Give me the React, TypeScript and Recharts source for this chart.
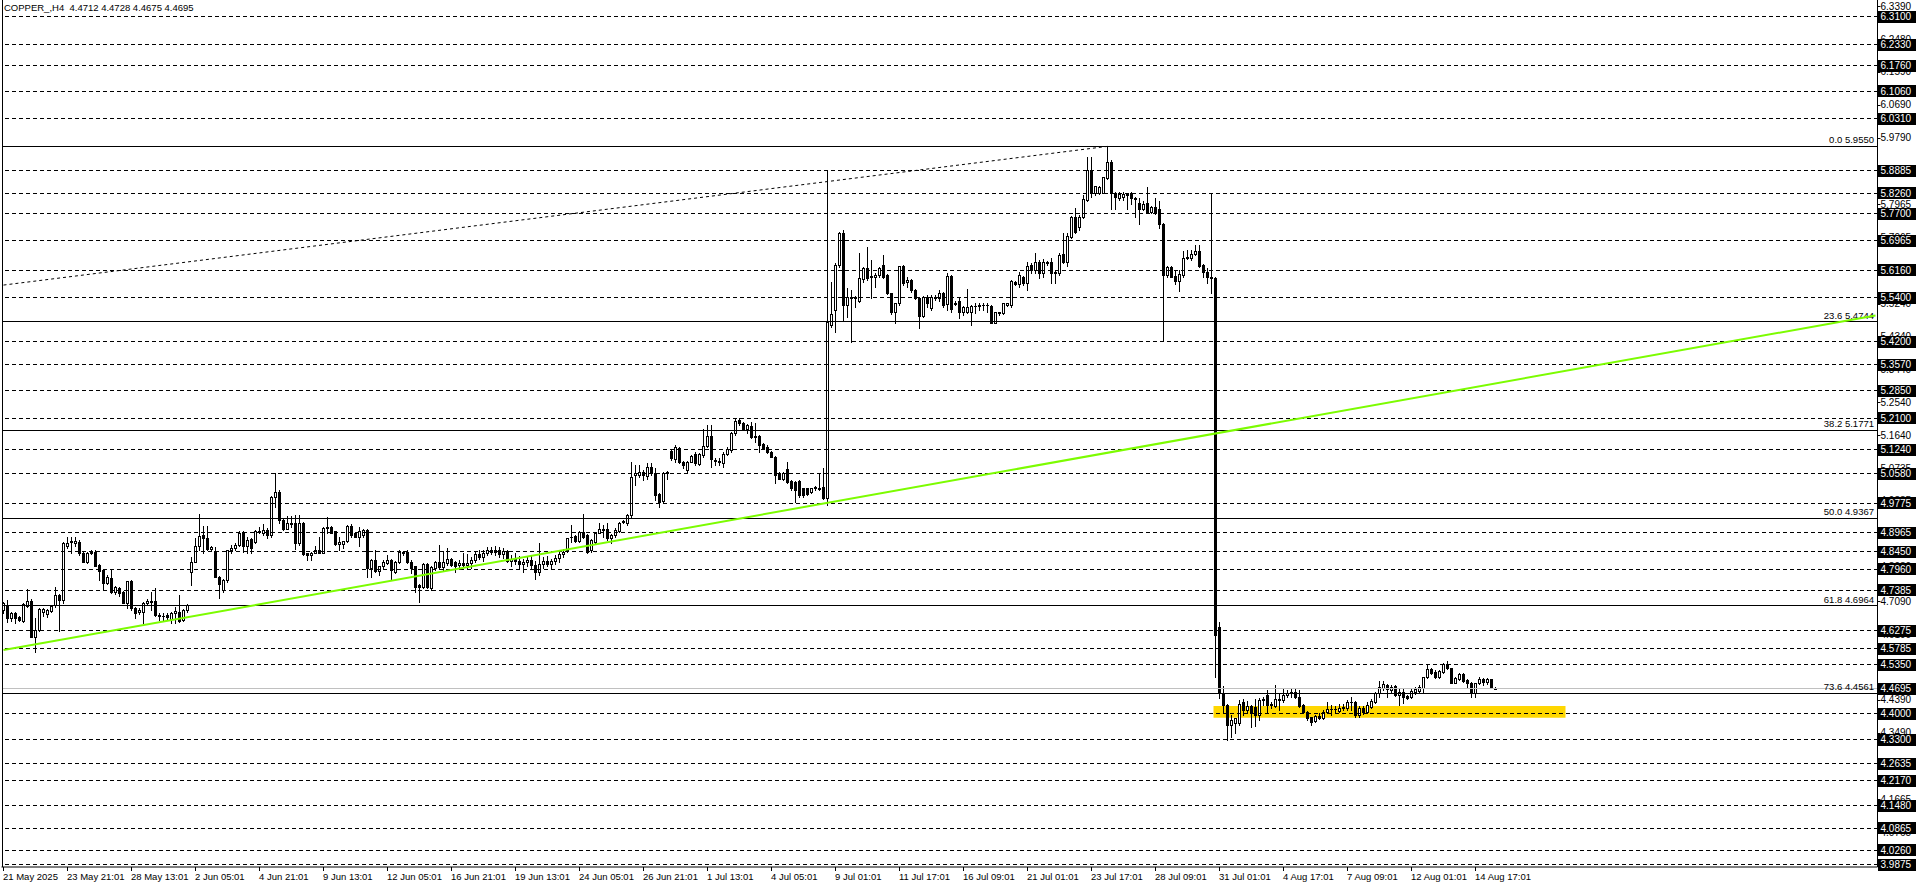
import { ComposedChart, Bar, XAxis, YAxis, ReferenceLine, ReferenceArea } from "recharts";

// COPPER_, H4 candles from 21 May 2025 to 15 Aug 2025
const opens = [
  4.685, 4.699, 4.662, 4.676, 4.665, 4.656, 4.696, 4.71, 4.612, 4.63,
  4.68, 4.673, 4.683, 4.699, 4.726, 4.711, 4.86, 4.874, 4.868, 4.87,
  4.842, 4.817, 4.84, 4.845, 4.808, 4.795, 4.76, 4.772, 4.735, 4.744,
  4.733, 4.705, 4.763, 4.69, 4.678, 4.68, 4.705, 4.71, 4.71, 4.671,
  4.669, 4.671, 4.66, 4.676, 4.679, 4.658, 4.685, 4.79, 4.817, 4.861,
  4.89, 4.881, 4.852, 4.847, 4.776, 4.74, 4.767, 4.848, 4.856, 4.863,
  4.899, 4.859, 4.879, 4.872, 4.9, 4.897, 4.904, 4.89, 4.994, 5.007,
  4.932, 4.908, 4.92, 4.922, 4.868, 4.922, 4.84, 4.836, 4.842, 4.848,
  4.842, 4.913, 4.913, 4.9, 4.866, 4.866, 4.874, 4.916, 4.895, 4.886,
  4.89, 4.904, 4.799, 4.822, 4.793, 4.804, 4.813, 4.822, 4.79, 4.815,
  4.845, 4.845, 4.817, 4.804, 4.753, 4.749, 4.811, 4.744, 4.799, 4.815,
  4.802, 4.813, 4.824, 4.817, 4.807, 4.813, 4.808, 4.813, 4.822, 4.838,
  4.83, 4.842, 4.848, 4.845, 4.85, 4.838, 4.846, 4.82, 4.825, 4.818,
  4.81, 4.815, 4.822, 4.808, 4.79, 4.812, 4.82, 4.812, 4.818, 4.828,
  4.838, 4.849, 4.884, 4.887, 4.875, 4.899, 4.89, 4.849, 4.872, 4.897,
  4.908, 4.908, 4.881, 4.89, 4.902, 4.927, 4.922, 4.945, 5.055, 5.055,
  5.064, 5.052, 5.077, 5.059, 5.002, 4.984, 5.061, 5.121, 5.098, 5.128,
  5.091, 5.068, 5.091, 5.112, 5.085, 5.109, 5.134, 5.161, 5.096, 5.094,
  5.087, 5.112, 5.123, 5.169, 5.205, 5.196, 5.182, 5.189, 5.158, 5.161,
  5.139, 5.132, 5.119, 5.105, 5.061, 5.045, 5.07, 5.039, 5.036, 5.039,
  5.018, 5.018, 5.009, 5.018, 5.015, 5.021, 4.993, 5.466, 5.507, 5.63,
  5.717, 5.52, 5.543, 5.539, 5.532, 5.591, 5.621, 5.6, 5.598, 5.603,
  5.63, 5.603, 5.552, 5.502, 5.525, 5.626, 5.584, 5.589, 5.562, 5.539,
  5.49, 5.542, 5.511, 5.539, 5.539, 5.553, 5.523, 5.6, 5.522, 5.53,
  5.5, 5.5, 5.5, 5.518, 5.519, 5.521, 5.52, 5.518, 5.472, 5.498,
  5.498, 5.521, 5.521, 5.584, 5.578, 5.598, 5.58, 5.63, 5.616, 5.637,
  5.607, 5.637, 5.637, 5.607, 5.607, 5.66, 5.639, 5.708, 5.761, 5.733,
  5.761, 5.808, 5.889, 5.826, 5.826, 5.828, 5.868, 5.911, 5.828, 5.813,
  5.816, 5.826, 5.826, 5.813, 5.799, 5.784, 5.801, 5.776, 5.788, 5.783,
  5.742, 5.603, 5.624, 5.6, 5.587, 5.603, 5.648, 5.648, 5.66, 5.667,
  5.63, 5.612, 5.596, 5.594, 4.637, 4.457, 4.425, 4.37, 4.374, 4.374,
  4.434, 4.411, 4.422, 4.418, 4.397, 4.438, 4.452, 4.425, 4.422, 4.441,
  4.438, 4.452, 4.457, 4.461, 4.447, 4.425, 4.406, 4.391, 4.382, 4.394,
  4.388, 4.404, 4.414, 4.413, 4.409, 4.417, 4.415, 4.434, 4.434, 4.397,
  4.415, 4.404, 4.42, 4.434, 4.457, 4.47, 4.479, 4.466, 4.477, 4.452,
  4.461, 4.45, 4.446, 4.461, 4.464, 4.47, 4.5, 4.523, 4.516, 4.502,
  4.516, 4.536, 4.525, 4.486, 4.495, 4.509, 4.493, 4.486, 4.457, 4.484,
  4.495, 4.488, 4.495, 4.4712,
];

const highs = [
  4.708, 4.712, 4.68, 4.68, 4.668, 4.704, 4.742, 4.716, 4.662, 4.69,
  4.69, 4.688, 4.697, 4.747, 4.73, 4.87, 4.886, 4.886, 4.884, 4.876,
  4.845, 4.845, 4.848, 4.848, 4.81, 4.797, 4.78, 4.796, 4.75, 4.748,
  4.736, 4.765, 4.767, 4.693, 4.69, 4.708, 4.714, 4.735, 4.744, 4.676,
  4.676, 4.676, 4.678, 4.694, 4.726, 4.687, 4.7, 4.831, 4.881, 4.948,
  4.915, 4.915, 4.86, 4.857, 4.778, 4.77, 4.85, 4.863, 4.868, 4.9,
  4.902, 4.886, 4.883, 4.903, 4.913, 4.921, 4.909, 4.996, 5.059, 5.014,
  4.935, 4.941, 4.941, 4.945, 4.945, 4.925, 4.842, 4.845, 4.859, 4.886,
  4.913, 4.939, 4.915, 4.902, 4.886, 4.874, 4.917, 4.921, 4.898, 4.913,
  4.906, 4.906, 4.825, 4.848, 4.806, 4.822, 4.836, 4.825, 4.82, 4.849,
  4.847, 4.849, 4.822, 4.806, 4.755, 4.813, 4.813, 4.804, 4.82, 4.863,
  4.847, 4.854, 4.827, 4.82, 4.822, 4.84, 4.838, 4.83, 4.845, 4.85,
  4.848, 4.858, 4.858, 4.86, 4.858, 4.856, 4.85, 4.835, 4.84, 4.832,
  4.825, 4.83, 4.835, 4.82, 4.867, 4.83, 4.832, 4.825, 4.835, 4.845,
  4.852, 4.881, 4.918, 4.89, 4.902, 4.948, 4.893, 4.88, 4.899, 4.922,
  4.918, 4.922, 4.892, 4.91, 4.925, 4.931, 4.948, 5.091, 5.082, 5.082,
  5.068, 5.087, 5.087, 5.073, 5.004, 5.064, 5.066, 5.123, 5.137, 5.13,
  5.093, 5.093, 5.109, 5.119, 5.114, 5.182, 5.192, 5.192, 5.1, 5.1,
  5.119, 5.132, 5.173, 5.21, 5.21, 5.199, 5.194, 5.201, 5.196, 5.164,
  5.141, 5.137, 5.121, 5.107, 5.063, 5.064, 5.091, 5.041, 5.038, 5.041,
  5.02, 5.02, 5.02, 5.024, 5.061, 5.073, 5.89, 5.584, 5.635, 5.721,
  5.726, 5.566, 5.561, 5.545, 5.662, 5.625, 5.678, 5.644, 5.607, 5.625,
  5.657, 5.605, 5.554, 5.525, 5.627, 5.63, 5.598, 5.592, 5.564, 5.541,
  5.545, 5.548, 5.548, 5.548, 5.562, 5.555, 5.609, 5.603, 5.532, 5.543,
  5.518, 5.563, 5.52, 5.525, 5.525, 5.525, 5.525, 5.52, 5.502, 5.502,
  5.527, 5.527, 5.589, 5.587, 5.612, 5.6, 5.639, 5.635, 5.662, 5.644,
  5.646, 5.641, 5.648, 5.614, 5.662, 5.717, 5.717, 5.764, 5.785, 5.767,
  5.822, 5.925, 5.927, 5.847, 5.847, 5.87, 5.956, 5.918, 5.83, 5.831,
  5.831, 5.828, 5.831, 5.817, 5.813, 5.804, 5.843, 5.792, 5.813, 5.804,
  5.746, 5.627, 5.626, 5.616, 5.615, 5.669, 5.671, 5.671, 5.685, 5.685,
  5.632, 5.621, 5.828, 5.596, 4.653, 4.477, 4.428, 4.397, 4.39, 4.438,
  4.44, 4.436, 4.425, 4.44, 4.443, 4.447, 4.466, 4.434, 4.479, 4.457,
  4.47, 4.466, 4.47, 4.47, 4.466, 4.427, 4.408, 4.393, 4.396, 4.402,
  4.411, 4.434, 4.425, 4.422, 4.426, 4.426, 4.438, 4.447, 4.436, 4.422,
  4.422, 4.434, 4.44, 4.461, 4.491, 4.491, 4.481, 4.479, 4.479, 4.47,
  4.467, 4.452, 4.47, 4.473, 4.479, 4.502, 4.537, 4.527, 4.52, 4.52,
  4.539, 4.545, 4.527, 4.5, 4.511, 4.513, 4.495, 4.488, 4.486, 4.502,
  4.498, 4.498, 4.497, 4.4728,
];

const lows = [
  4.676, 4.653, 4.655, 4.649, 4.654, 4.652, 4.694, 4.61, 4.571, 4.626,
  4.668, 4.665, 4.678, 4.694, 4.626, 4.705, 4.854, 4.84, 4.859, 4.836,
  4.815, 4.813, 4.838, 4.804, 4.767, 4.74, 4.757, 4.731, 4.73, 4.722,
  4.703, 4.69, 4.685, 4.662, 4.674, 4.649, 4.7, 4.685, 4.667, 4.658,
  4.658, 4.658, 4.649, 4.649, 4.653, 4.655, 4.68, 4.754, 4.815, 4.849,
  4.842, 4.848, 4.848, 4.776, 4.717, 4.735, 4.762, 4.84, 4.849, 4.86,
  4.845, 4.84, 4.84, 4.868, 4.895, 4.89, 4.881, 4.886, 4.968, 4.922,
  4.905, 4.906, 4.913, 4.851, 4.863, 4.836, 4.822, 4.822, 4.84, 4.84,
  4.84, 4.895, 4.895, 4.864, 4.849, 4.854, 4.872, 4.886, 4.884, 4.859,
  4.886, 4.776, 4.776, 4.79, 4.781, 4.799, 4.811, 4.767, 4.786, 4.813,
  4.836, 4.813, 4.785, 4.735, 4.708, 4.745, 4.745, 4.74, 4.795, 4.799,
  4.795, 4.808, 4.805, 4.79, 4.796, 4.804, 4.799, 4.8, 4.815, 4.825,
  4.818, 4.835, 4.838, 4.836, 4.83, 4.828, 4.815, 4.805, 4.812, 4.8,
  4.79, 4.805, 4.8, 4.77, 4.78, 4.8, 4.805, 4.8, 4.81, 4.815,
  4.83, 4.845, 4.872, 4.87, 4.872, 4.881, 4.84, 4.845, 4.868, 4.895,
  4.886, 4.877, 4.867, 4.886, 4.899, 4.922, 4.918, 4.94, 5.027, 5.05,
  5.041, 5.045, 5.055, 4.986, 4.966, 4.98, 5.045, 5.096, 5.091, 5.087,
  5.073, 5.064, 5.089, 5.082, 5.082, 5.105, 5.132, 5.077, 5.082, 5.082,
  5.077, 5.109, 5.119, 5.164, 5.192, 5.18, 5.169, 5.155, 5.146, 5.119,
  5.127, 5.114, 5.103, 5.032, 5.043, 5.041, 5.032, 5.013, 4.982, 4.995,
  4.995, 5.0, 5.004, 5.013, 5.013, 4.988, 4.972, 5.461, 5.447, 5.625,
  5.479, 5.488, 5.42, 5.516, 5.529, 5.584, 5.589, 5.539, 5.571, 5.598,
  5.593, 5.55, 5.497, 5.47, 5.52, 5.575, 5.571, 5.557, 5.537, 5.457,
  5.487, 5.516, 5.507, 5.534, 5.532, 5.516, 5.507, 5.502, 5.521, 5.484,
  5.493, 5.498, 5.466, 5.498, 5.507, 5.507, 5.502, 5.47, 5.47, 5.494,
  5.496, 5.518, 5.516, 5.576, 5.571, 5.575, 5.562, 5.607, 5.607, 5.594,
  5.598, 5.63, 5.58, 5.58, 5.603, 5.635, 5.626, 5.703, 5.717, 5.726,
  5.758, 5.804, 5.817, 5.822, 5.824, 5.826, 5.865, 5.783, 5.783, 5.808,
  5.808, 5.783, 5.797, 5.761, 5.742, 5.781, 5.772, 5.772, 5.77, 5.731,
  5.425, 5.598, 5.596, 5.578, 5.56, 5.598, 5.646, 5.644, 5.658, 5.624,
  5.598, 5.582, 5.553, 4.502, 4.443, 4.402, 4.33, 4.338, 4.347, 4.37,
  4.397, 4.406, 4.363, 4.367, 4.383, 4.425, 4.402, 4.415, 4.42, 4.411,
  4.434, 4.447, 4.447, 4.443, 4.42, 4.402, 4.383, 4.37, 4.379, 4.385,
  4.385, 4.402, 4.397, 4.406, 4.406, 4.411, 4.411, 4.411, 4.391, 4.393,
  4.4, 4.402, 4.415, 4.429, 4.446, 4.466, 4.446, 4.461, 4.449, 4.425,
  4.429, 4.441, 4.443, 4.455, 4.458, 4.457, 4.498, 4.509, 4.498, 4.498,
  4.513, 4.522, 4.484, 4.484, 4.493, 4.488, 4.47, 4.447, 4.447, 4.482,
  4.479, 4.482, 4.47, 4.4675,
];

const closes = [
  4.703, 4.662, 4.676, 4.662, 4.658, 4.701, 4.71, 4.612, 4.63, 4.687,
  4.687, 4.685, 4.696, 4.726, 4.711, 4.868, 4.868, 4.87, 4.874, 4.84,
  4.817, 4.842, 4.843, 4.806, 4.793, 4.76, 4.776, 4.735, 4.747, 4.731,
  4.705, 4.763, 4.69, 4.676, 4.685, 4.705, 4.709, 4.706, 4.671, 4.669,
  4.669, 4.665, 4.676, 4.683, 4.656, 4.685, 4.699, 4.817, 4.861, 4.888,
  4.881, 4.851, 4.857, 4.776, 4.756, 4.767, 4.848, 4.856, 4.863, 4.897,
  4.859, 4.877, 4.854, 4.9, 4.902, 4.904, 4.89, 4.994, 5.007, 4.932,
  4.908, 4.922, 4.922, 4.868, 4.922, 4.838, 4.836, 4.842, 4.849, 4.842,
  4.91, 4.909, 4.897, 4.866, 4.872, 4.874, 4.915, 4.89, 4.886, 4.9,
  4.904, 4.799, 4.822, 4.793, 4.804, 4.815, 4.822, 4.795, 4.817, 4.845,
  4.84, 4.815, 4.799, 4.749, 4.749, 4.811, 4.749, 4.802, 4.817, 4.802,
  4.815, 4.824, 4.808, 4.806, 4.813, 4.808, 4.813, 4.822, 4.838, 4.83,
  4.842, 4.848, 4.845, 4.85, 4.838, 4.846, 4.82, 4.825, 4.818, 4.81,
  4.815, 4.822, 4.808, 4.79, 4.812, 4.82, 4.812, 4.818, 4.828, 4.838,
  4.845, 4.881, 4.885, 4.875, 4.899, 4.886, 4.845, 4.877, 4.897, 4.906,
  4.904, 4.881, 4.89, 4.904, 4.922, 4.929, 4.945, 5.048, 5.059, 5.064,
  5.055, 5.076, 5.059, 5.0, 4.982, 5.061, 5.063, 5.1, 5.13, 5.091,
  5.082, 5.091, 5.107, 5.087, 5.112, 5.134, 5.161, 5.098, 5.094, 5.091,
  5.112, 5.125, 5.171, 5.203, 5.196, 5.182, 5.192, 5.158, 5.162, 5.137,
  5.129, 5.119, 5.105, 5.055, 5.045, 5.061, 5.036, 5.018, 5.013, 5.0,
  5.0, 5.002, 5.018, 5.021, 5.018, 4.991, 5.475, 5.497, 5.63, 5.717,
  5.52, 5.543, 5.539, 5.543, 5.593, 5.621, 5.593, 5.596, 5.602, 5.621,
  5.598, 5.552, 5.502, 5.525, 5.627, 5.582, 5.589, 5.562, 5.539, 5.49,
  5.542, 5.525, 5.543, 5.543, 5.553, 5.521, 5.6, 5.509, 5.527, 5.5,
  5.516, 5.516, 5.518, 5.519, 5.521, 5.52, 5.521, 5.472, 5.5, 5.5,
  5.525, 5.525, 5.587, 5.578, 5.603, 5.58, 5.627, 5.616, 5.637, 5.607,
  5.639, 5.635, 5.607, 5.612, 5.658, 5.639, 5.71, 5.761, 5.721, 5.761,
  5.81, 5.889, 5.826, 5.847, 5.843, 5.87, 5.911, 5.828, 5.816, 5.825,
  5.825, 5.822, 5.813, 5.81, 5.784, 5.797, 5.776, 5.79, 5.776, 5.742,
  5.603, 5.624, 5.598, 5.587, 5.605, 5.648, 5.651, 5.66, 5.667, 5.627,
  5.612, 5.596, 5.594, 4.616, 4.457, 4.425, 4.37, 4.383, 4.388, 4.427,
  4.411, 4.422, 4.402, 4.397, 4.438, 4.441, 4.425, 4.427, 4.441, 4.438,
  4.452, 4.457, 4.459, 4.447, 4.422, 4.404, 4.388, 4.379, 4.394, 4.388,
  4.406, 4.414, 4.413, 4.414, 4.417, 4.418, 4.434, 4.432, 4.397, 4.415,
  4.404, 4.425, 4.436, 4.458, 4.473, 4.481, 4.467, 4.473, 4.452, 4.461,
  4.447, 4.443, 4.464, 4.467, 4.473, 4.5, 4.523, 4.513, 4.502, 4.518,
  4.536, 4.525, 4.486, 4.498, 4.509, 4.491, 4.484, 4.457, 4.484, 4.495,
  4.488, 4.496, 4.473, 4.4695,
];

// time scale: one label every 16 bars
const tickBars = [0, 16, 32, 48, 64, 80, 96, 112, 128, 144, 160, 176, 192, 208, 224, 240, 256, 272, 288, 304, 320, 336, 352, 368];
const tickLabels = [
  "21 May 2025", "23 May 21:01", "28 May 13:01", "2 Jun 05:01", "4 Jun 21:01", "9 Jun 13:01",
  "12 Jun 05:01", "16 Jun 21:01", "19 Jun 13:01", "24 Jun 05:01", "26 Jun 21:01", "1 Jul 13:01",
  "4 Jul 05:01", "9 Jul 01:01", "11 Jul 17:01", "16 Jul 09:01", "21 Jul 01:01", "23 Jul 17:01",
  "28 Jul 09:01", "31 Jul 01:01", "4 Aug 17:01", "7 Aug 09:01", "12 Aug 01:01", "14 Aug 17:01",
];

// plain price scale labels
const priceTicks = [
  6.339, 6.248, 6.159, 6.069, 5.979, 5.7965, 5.7065, 5.524, 5.434, 5.344, 5.254, 5.164,
  5.0735, 4.9835, 4.893, 4.803, 4.709, 4.619, 4.5285, 4.439, 4.349, 4.258, 4.1665, 4.0765,
];
// horizontal line objects (dashed, with black price tags)
const levelLines = [
  6.31, 6.233, 6.176, 6.106, 6.031, 5.8885, 5.826, 5.77, 5.6965, 5.616, 5.54, 5.42, 5.357,
  5.285, 5.21, 5.124, 5.058, 4.9775, 4.8965, 4.845, 4.796, 4.7385, 4.6275, 4.5785, 4.535,
  4.4, 4.33, 4.2635, 4.217, 4.148, 4.0865, 4.026, 3.9875,
];
const bidPrice = 4.4695;

// fibonacci retracement
const fibNames = ["0.0", "23.6", "38.2", "50.0", "61.8", "73.6"];
const fibPrices = [5.955, 5.4744, 5.1771, 4.9367, 4.6964, 4.4561];

// trend line + fibo base line anchors (bar index, price)
const trendLine = [{ x: 0, y: 4.575 }, { x: 468, y: 5.4916 }];
const fibBase = [{ x: 0, y: 5.575 }, { x: 276, y: 5.955 }];

// yellow support zone
const zoneBars = [303, 390];
const zonePrices = [4.3898, 4.4218];

const SLOTS = 469; // bar slots visible in the window (4px each)
const FONT = "'Liberation Sans', Arial, sans-serif";

const data = Array.from({ length: SLOTS }, (_, i) =>
  i < opens.length
    ? { i, o: opens[i], h: highs[i], l: lows[i], c: closes[i], range: [lows[i], highs[i]] }
    : { i }
);

function Candle(props: any) {
  const { x, y, width, height, payload } = props;
  if (!payload || payload.o == null) return null;
  const { o, h, l, c } = payload;
  const top = Math.min(y, y + height);
  const k = h > l ? Math.abs(height) / (h - l) : 0;
  const py = (p: number) => Math.round(top + (h - p) * k);
  const cx = Math.floor(x + width / 2);
  const yH = py(h);
  const yL = py(l);
  const bTop = Math.min(py(o), py(c));
  const bBot = Math.max(py(o), py(c));
  const bull = c >= o;
  return (
    <g>
      <rect x={cx} y={yH} width={1} height={yL - yH + 1} fill="#000" />
      <rect x={cx - 1} y={bTop} width={3} height={bBot - bTop + 1} fill="#000" />
      {bull && bBot - bTop >= 2 && (
        <rect x={cx} y={bTop + 1} width={1} height={bBot - bTop - 1} fill="#fff" />
      )}
    </g>
  );
}

function PriceTick(props: any) {
  const { x, y, payload } = props;
  const v = payload.value;
  const label = Number(v).toFixed(4);
  const boxed = v === bidPrice || levelLines.includes(v);
  if (boxed) {
    return (
      <g>
        <rect x={x + 0.5} y={Math.round(y) - 6} width={40} height={12} fill="#000" />
        <text x={x + 3} y={y + 3.5} fontSize={10} fill="#fff" fontFamily={FONT}>
          {label}
        </text>
      </g>
    );
  }
  return (
    <g>
      <rect x={x} y={Math.round(y)} width={3} height={1} fill="#000" />
      <text x={x + 3} y={y + 3.5} fontSize={10} fill="#000" fontFamily={FONT}>
        {label}
      </text>
    </g>
  );
}

function TimeTick(props: any) {
  const { x, y, payload } = props;
  const k = tickBars.indexOf(payload.value);
  const px = Math.floor(x);
  return (
    <g>
      <rect x={px} y={y} width={1} height={4} fill="#000" />
      <text x={px} y={y + 13} fontSize={9.5} fill="#000" fontFamily={FONT}>
        {tickLabels[k]}
      </text>
    </g>
  );
}

function FibLabel(props: any) {
  const { viewBox, text } = props;
  if (!viewBox) return null;
  return (
    <text x={viewBox.x + viewBox.width - 3.5} y={viewBox.y - 3} textAnchor="end" fontSize={9.5} fill="#000" fontFamily={FONT}>
      {text}
    </text>
  );
}

export default function App() {
  return (
    <div style={{ position: "absolute", left: 0, top: 0, width: 1916, height: 888, background: "#fff", fontFamily: FONT }}>
      <ComposedChart width={1916} height={888} data={data} margin={{ top: 0, right: 0, bottom: 0, left: 1.5 }}>
        <XAxis
          dataKey="i"
          type="category"
          ticks={tickBars}
          interval={0}
          tick={<TimeTick />}
          tickSize={0}
          tickMargin={0}
          tickLine={false}
          axisLine={{ stroke: "#000" }}
          height={21}
        />
        <YAxis
          orientation="right"
          type="number"
          domain={[3.9807, 6.356]}
          allowDataOverflow
          ticks={[...priceTicks, ...levelLines, bidPrice]}
          interval={0}
          tick={<PriceTick />}
          tickSize={0}
          tickMargin={0}
          tickLine={false}
          axisLine={{ stroke: "#000" }}
          width={38.5}
        />
        <ReferenceArea
          x1={zoneBars[0]}
          x2={zoneBars[1]}
          y1={zonePrices[0]}
          y2={zonePrices[1]}
          fill="#ffd700"
          fillOpacity={1}
          stroke="none"
        />
        {levelLines.map((v) => (
          <ReferenceLine key={"lv" + v} y={v} stroke="#000" strokeDasharray="4 3" shapeRendering="crispEdges" />
        ))}
        <ReferenceLine y={bidPrice} stroke="#c0c0c0" shapeRendering="crispEdges" />
        {fibPrices.map((v, k) => (
          <ReferenceLine
            key={"fib" + k}
            y={v}
            stroke="#000"
            shapeRendering="crispEdges"
            label={<FibLabel text={fibNames[k] + " " + v.toFixed(4)} />}
          />
        ))}
        <ReferenceLine segment={fibBase} stroke="#000" strokeDasharray="3 3" />
        <Bar dataKey="range" shape={<Candle />} isAnimationActive={false} />
        <ReferenceLine segment={trendLine} stroke="#7cfc00" strokeWidth={2} />
      </ComposedChart>
      <div style={{ position: "absolute", left: 2, top: 0, width: 1, height: 867, background: "#000" }} />
      <div style={{ position: "absolute", left: 4, top: 2, fontSize: 9.5, lineHeight: "12px", color: "#000", whiteSpace: "pre" }}>
        {"COPPER_,H4  4.4712 4.4728 4.4675 4.4695"}
      </div>
    </div>
  );
}
